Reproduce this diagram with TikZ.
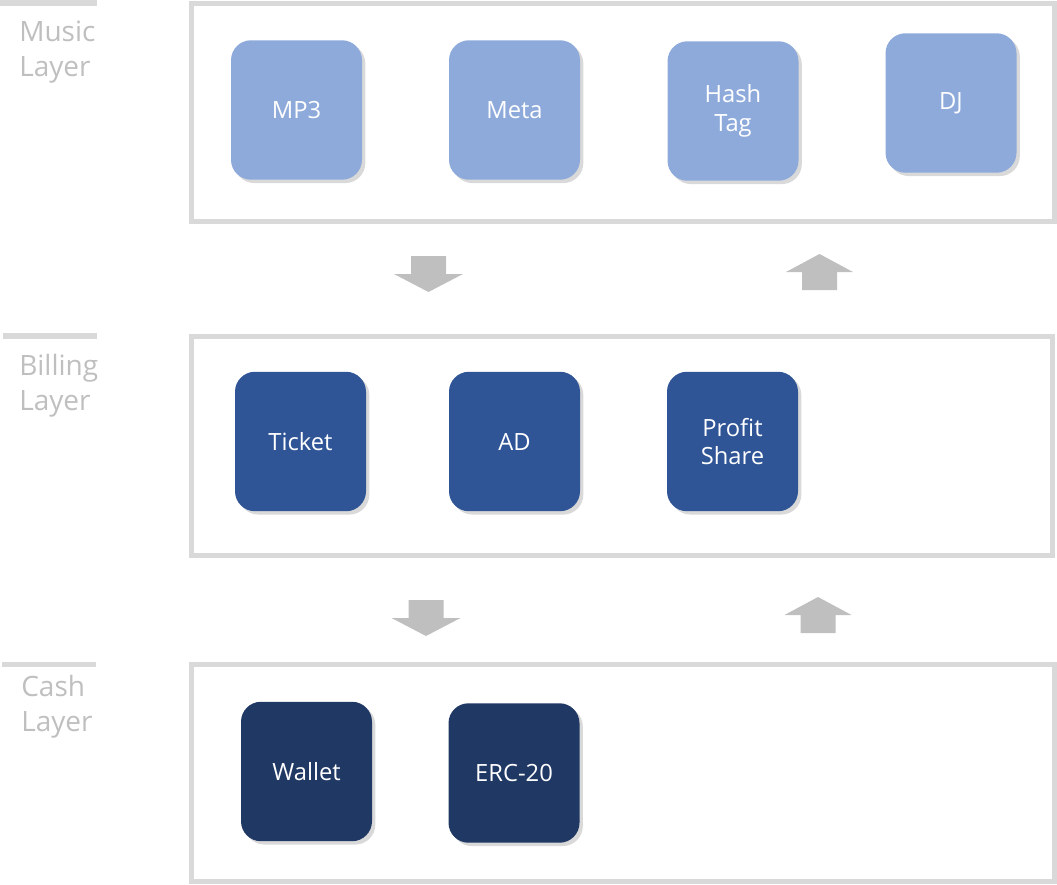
\documentclass[tikz,border=0pt]{standalone}
\usepackage{fontspec}
\setmainfont{Open Sans}
\usetikzlibrary{shadows}
\definecolor{musicblue}{HTML}{8EAADB}
\definecolor{billblue}{HTML}{2F5597}
\definecolor{cashblue}{HTML}{203864}
\definecolor{framegray}{HTML}{D9D9D9}
\definecolor{arrowgray}{HTML}{BFBFBF}

\begin{document}
\begin{tikzpicture}[x=0.75pt, y=-0.75pt,
  box/.style={rounded corners=15pt, minimum width=98.25pt, minimum height=104.6pt, inner sep=0pt, text=white, align=center, font=\fontsize{17.8}{21.5}\selectfont, drop shadow={shadow xshift=2.5pt, shadow yshift=-2.5pt, opacity=0.3}},
  layerframe/.style={draw=framegray, line width=3.75pt},
  layerbar/.style={draw=framegray, line width=4pt},
  layerlabel/.style={anchor=north west, inner sep=0pt, align=left, text=arrowgray, font=\fontsize{21}{26}\selectfont},
  downarrow/.pic={\fill[arrowgray] (-17.5,0) -- (17.5,0) -- (17.5,18) -- (34.5,18) -- (0,36) -- (-34.5,18) -- (-17.5,18) -- cycle;},
  uparrow/.pic={\fill[arrowgray] (0,0) -- (33.5,18) -- (17.5,18) -- (17.5,36) -- (-17.5,36) -- (-17.5,18) -- (-33.5,18) -- cycle;}]
\useasboundingbox (0,0) rectangle (1057,885);

\draw[layerbar] (0,3) -- (97,3);
\draw[layerbar] (3,336) -- (97,336);
\draw[layerbar] (2,664.5) -- (96,664.5);
\node[layerlabel] (musiclbl) at (19,21) {Music\\Layer};
\node[layerlabel] (billinglbl) at (19,354) {Billing\\Layer};
\node[layerlabel] (cashlbl) at (21,675) {Cash\\Layer};

\draw[layerframe] (191,3) rectangle (1054,221);
\draw[layerframe] (191,336) rectangle (1052,555);
\draw[layerframe] (191,664) rectangle (1054,881);

\node[box, fill=musicblue] (mp3) at (296.5,110) {MP3};
\node[box, fill=musicblue] (meta) at (514.5,110) {Meta};
\node[box, fill=musicblue] (hashtag) at (733,111) {Hash\\Tag};
\node[box, fill=musicblue] (dj) at (951,103) {DJ};

\node[box, fill=billblue] (ticket) at (300.5,441.5) {Ticket};
\node[box, fill=billblue] (ad) at (514.5,441.5) {AD};
\node[box, fill=billblue] (profit) at (732.5,441.5) {Profit\\Share};

\node[box, fill=cashblue] (wallet) at (306.5,771.5) {Wallet};
\node[box, fill=cashblue] (erc) at (514,773) {ERC-20};

\pic at (428.5,256) {downarrow};
\pic at (819.5,254) {uparrow};
\pic at (426,600) {downarrow};
\pic at (818,597) {uparrow};
\end{tikzpicture}
\end{document}
